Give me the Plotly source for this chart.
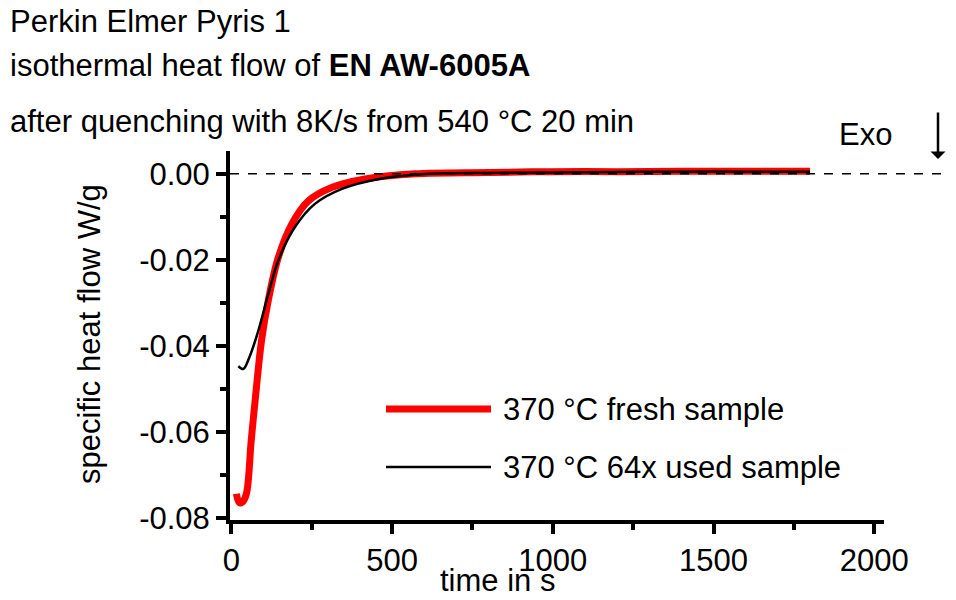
import plotly.graph_objects as go

t_fresh = [16, 25, 35, 47, 62, 78, 94, 115, 146, 188, 240, 312, 416, 572, 800, 1000, 1200, 1400, 1600, 1800]
v_fresh = [-0.0744, -0.0765, -0.0763, -0.0744, -0.062, -0.0498, -0.0388, -0.0295, -0.0195, -0.0117, -0.0063, -0.0032, -0.0012, 0.0, 0.0003, 0.0005, 0.0005, 0.0006, 0.0006, 0.0006]
t_used = [22, 37, 56, 84, 115, 146, 197, 260, 344, 460, 616, 800, 1000, 1200, 1400, 1600, 1800]
v_used = [-0.0447, -0.0454, -0.0427, -0.0365, -0.028, -0.0202, -0.0125, -0.007, -0.0035, -0.0012, 0.0, 0.0002, 0.0003, 0.0004, 0.0005, 0.0005, 0.0005]
x_ticks = [0, 500, 1000, 1500, 2000]
y_ticks = [0.0, -0.02, -0.04, -0.06, -0.08]
y_labels = ["0.00", "-0.02", "-0.04", "-0.06", "-0.08"]

F = "Liberation Sans, Arial, sans-serif"
S = 31
fig = go.Figure()
fig.add_trace(go.Scatter(x=t_fresh, y=v_fresh, mode="lines", line=dict(color="#ff0000", width=7, shape="spline")))
fig.add_trace(go.Scatter(x=t_used, y=v_used, mode="lines", line=dict(color="black", width=2.5, shape="spline")))

ax = dict(showline=True, linecolor="black", linewidth=4, ticks="outside", ticklen=10, tickwidth=4,
          tickcolor="black", showgrid=False, zeroline=False, automargin=False,
          tickfont=dict(size=S, family=F, color="black"),
          minor=dict(ticks="outside", ticklen=6, tickwidth=4, tickcolor="black"))
L, R, T, B = 222, 80, 143, 88
fig.update_layout(
    width=956, height=600, plot_bgcolor="white", paper_bgcolor="white", showlegend=False,
    margin=dict(l=L, r=R, t=T, b=B),
    font=dict(family=F, color="black"),
    xaxis=dict(range=[-4, 2030], tickvals=x_ticks, **ax),
    yaxis=dict(range=[-0.0805, 0.0053], tickvals=y_ticks, ticktext=y_labels, **ax),
)
fig.update_xaxes(minor=dict(dtick=250, tick0=0))
fig.update_yaxes(minor=dict(dtick=0.01, tick0=0))

fig.add_shape(type="line", xref="paper", yref="y", x0=0, x1=1.12, y0=0, y1=0,
              line=dict(color="black", width=1.5, dash="dash"))
def ann(text, x, y, size=S, xanchor="left", **kw):
    fig.add_annotation(text=text, xref="paper", yref="paper", x=x, y=y, showarrow=False,
                       xanchor=xanchor, yanchor="middle", font=dict(size=size, family=F, color="black"), **kw)
W, H = 956 - L - R, 600 - T - B
px = lambda p: (p - 7 - L) / W
py = lambda p: (600 - B - (p - 7)) / H
ann("Perkin Elmer Pyris 1", px(7), py(20))
ann("isothermal heat flow of <b>EN AW-6005A</b>", px(7), py(64))
ann("after quenching with 8K/s from 540 °C 20 min", px(7), py(120))
ann("Exo", px(836), py(133))
ann("time in s", px(496), py(579), xanchor="center")
ann("specific heat flow W/g", px(88), py(333), xanchor="center", textangle=-90)
fig.add_annotation(xref="paper", yref="paper", x=px(937), y=py(158), ax=0, ay=-48,
                   text="", showarrow=True, arrowhead=1, arrowwidth=2.5, arrowcolor="black")
fig.add_shape(type="line", xref="paper", yref="paper", x0=px(385), x1=px(490), y0=py(408), y1=py(408),
              line=dict(color="#ff0000", width=7))
fig.add_shape(type="line", xref="paper", yref="paper", x0=px(385), x1=px(490), y0=py(466), y1=py(466),
              line=dict(color="black", width=2.5))
ann("370 °C fresh sample", px(500), py(408))
ann("370 °C 64x used sample", px(500), py(466))
fig.write_html("out.html")
